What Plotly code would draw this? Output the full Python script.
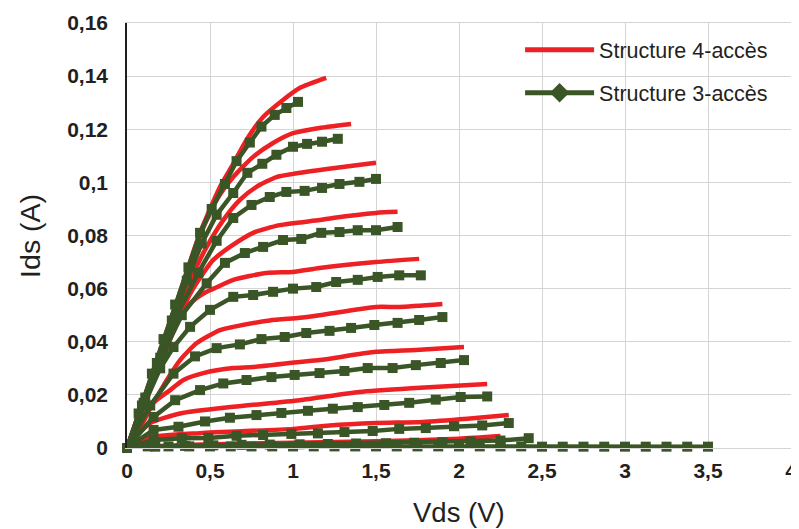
import plotly.graph_objects as go

# ---------------- data ----------------
# Structure 4-accès (red curves)
r1_x = [0, 0.1, 0.2, 0.3, 0.44, 0.56, 0.64, 0.72, 0.82, 0.94, 1.04, 1.2]
r1_y = [0, 0.018, 0.037, 0.055, 0.081, 0.0983, 0.107, 0.116, 0.1246, 0.131, 0.1355, 0.1393]
r2_x = [0, 0.1, 0.2, 0.3, 0.44, 0.54, 0.64, 0.76, 0.88, 1.0, 1.14, 1.35]
r2_y = [0, 0.018, 0.036, 0.053, 0.080, 0.0934, 0.102, 0.1096, 0.1148, 0.1185, 0.1203, 0.122]
r3_x = [0, 0.1, 0.2, 0.3, 0.38, 0.48, 0.58, 0.68, 0.78, 0.9, 1.0, 1.24, 1.5]
r3_y = [0, 0.017, 0.034, 0.050, 0.063, 0.0757, 0.0858, 0.0934, 0.0983, 0.102, 0.1032, 0.1053, 0.1074]
r4_x = [0, 0.1, 0.2, 0.3, 0.38, 0.46, 0.52, 0.62, 0.76, 0.92, 1.16, 1.24, 1.5, 1.63]
r4_y = [0, 0.016, 0.032, 0.047, 0.058, 0.0659, 0.0708, 0.0757, 0.081, 0.0839, 0.0858, 0.0866, 0.0885, 0.0889]
r5_x = [0, 0.1, 0.2, 0.32, 0.40, 0.48, 0.54, 0.64, 0.84, 1.0, 1.16, 1.5, 1.76]
r5_y = [0, 0.016, 0.031, 0.050, 0.0555, 0.0588, 0.0605, 0.0633, 0.0659, 0.0663, 0.0678, 0.070, 0.0712]
r6_x = [0, 0.1, 0.18, 0.24, 0.32, 0.42, 0.56, 0.64, 0.86, 1.04, 1.16, 1.5, 1.64, 1.90]
r6_y = [0, 0.012, 0.0192, 0.0256, 0.0331, 0.0395, 0.0444, 0.0456, 0.048, 0.049, 0.050, 0.0531, 0.0531, 0.0542]
r7_x = [0, 0.1, 0.16, 0.26, 0.34, 0.46, 0.64, 0.76, 1.04, 1.16, 1.5, 1.74, 2.03]
r7_y = [0, 0.010, 0.017, 0.0218, 0.0256, 0.0282, 0.0301, 0.0305, 0.0324, 0.0331, 0.0362, 0.0369, 0.038]
r8_x = [0, 0.08, 0.14, 0.32, 0.64, 1.04, 1.40, 1.74, 2.17]
r8_y = [0, 0.006, 0.0094, 0.013, 0.0155, 0.018, 0.0211, 0.0226, 0.0241]
r9_x = [0, 0.14, 0.44, 1.0, 1.22, 1.5, 1.78, 2.05, 2.30]
r9_y = [0, 0.004, 0.0056, 0.0072, 0.0085, 0.0094, 0.0098, 0.011, 0.0124]
r10_x = [0, 0.3, 0.6, 1.0, 1.5, 2.0, 2.25]
r10_y = [0, 0.001, 0.0015, 0.002, 0.0025, 0.0035, 0.0045]
r11_x = [0, 1.0, 2.0, 3.0, 3.5]
r11_y = [0, 0, 0, 0, 0]

# Structure 3-accès (green curves with markers)
g1_x = [0, 0.07, 0.15, 0.22, 0.29, 0.37, 0.44, 0.51, 0.59, 0.66, 0.74, 0.81, 0.89, 0.96, 1.03]
g1_y = [0, 0.013, 0.028, 0.041, 0.054, 0.068, 0.081, 0.090, 0.0994, 0.108, 0.115, 0.121, 0.1254, 0.128, 0.1303]
g2_x = [0, 0.09, 0.18, 0.27, 0.36, 0.45, 0.54, 0.64, 0.725, 0.815, 0.90, 1.0, 1.085, 1.175, 1.27]
g2_y = [0, 0.016, 0.032, 0.048, 0.063, 0.077, 0.0878, 0.096, 0.1036, 0.107, 0.1104, 0.1134, 0.1145, 0.1153, 0.1164]
g3_x = [0, 0.1, 0.2, 0.3, 0.43, 0.54, 0.64, 0.75, 0.86, 0.96, 1.07, 1.175, 1.28, 1.40, 1.50]
g3_y = [0, 0.017, 0.034, 0.050, 0.066, 0.078, 0.0866, 0.0915, 0.0945, 0.0964, 0.0968, 0.0979, 0.0994, 0.1002, 0.1013]
g4_x = [0, 0.11, 0.22, 0.33, 0.48, 0.59, 0.71, 0.82, 0.94, 1.05, 1.17, 1.28, 1.39, 1.50, 1.63]
g4_y = [0, 0.019, 0.036, 0.050, 0.062, 0.0697, 0.0734, 0.0757, 0.0783, 0.0787, 0.081, 0.0813, 0.082, 0.082, 0.0832]
g5_x = [0, 0.1, 0.2, 0.28, 0.38, 0.50, 0.64, 0.76, 0.88, 1.0, 1.14, 1.26, 1.39, 1.51, 1.64, 1.77]
g5_y = [0, 0.016, 0.030, 0.038, 0.0456, 0.052, 0.0569, 0.0576, 0.0588, 0.060, 0.0606, 0.0625, 0.0633, 0.0644, 0.065, 0.065]
g6_x = [0, 0.14, 0.28, 0.41, 0.54, 0.68, 0.81, 0.95, 1.08, 1.22, 1.35, 1.49, 1.63, 1.76, 1.90]
g6_y = [0, 0.016, 0.028, 0.0345, 0.0376, 0.039, 0.041, 0.0418, 0.0433, 0.0441, 0.0452, 0.0463, 0.0471, 0.0482, 0.0493]
g7_x = [0, 0.16, 0.29, 0.44, 0.58, 0.72, 0.87, 1.01, 1.16, 1.31, 1.45, 1.60, 1.74, 1.89, 2.03]
g7_y = [0, 0.0117, 0.018, 0.0218, 0.0243, 0.0256, 0.0267, 0.0275, 0.0282, 0.029, 0.0301, 0.0301, 0.0312, 0.032, 0.0331]
g8_x = [0, 0.16, 0.31, 0.47, 0.62, 0.78, 0.93, 1.09, 1.24, 1.39, 1.55, 1.70, 1.86, 2.01, 2.17]
g8_y = [0, 0.0068, 0.0080, 0.0100, 0.0114, 0.0124, 0.0132, 0.0140, 0.0148, 0.0154, 0.0162, 0.017, 0.0182, 0.0192, 0.0194]
g9_x = [0, 0.16, 0.33, 0.49, 0.66, 0.82, 0.99, 1.15, 1.31, 1.48, 1.64, 1.80, 1.97, 2.14, 2.30]
g9_y = [0, 0.003, 0.0037, 0.0038, 0.0046, 0.0049, 0.0053, 0.0055, 0.006, 0.0064, 0.0072, 0.0075, 0.0082, 0.0085, 0.0094]
g10_x = [0, 0.17, 0.35, 0.52, 0.69, 0.86, 1.04, 1.21, 1.38, 1.56, 1.73, 1.90, 2.07, 2.25, 2.42]
g10_y = [0, 0.0005, 0.0008, 0.001, 0.0012, 0.0013, 0.0014, 0.0015, 0.0017, 0.0018, 0.002, 0.0022, 0.0025, 0.0028, 0.0037]
g11_x = [0, 0.125, 0.25, 0.375, 0.5, 0.625, 0.75, 0.875, 1.0, 1.125, 1.25, 1.375, 1.5, 1.625, 1.75,
         1.875, 2.0, 2.125, 2.25, 2.375, 2.5, 2.625, 2.75, 2.875, 3.0, 3.125, 3.25, 3.375, 3.5]
g11_y = [0, 0.0006, 0.0006, 0.0006, 0.0006, 0.0006, 0.0006, 0.0006, 0.0006, 0.0006, 0.0006, 0.0006, 0.0006, 0.0006, 0.0006,
         0.0006, 0.0006, 0.0006, 0.0006, 0.0006, 0.0005, 0.0005, 0.0005, 0.0005, 0.0005, 0.0005, 0.0005, 0.0005, 0.0005]

series_names = ["Structure 4-accès", "Structure 3-accès"]
x_title = "Vds (V)"
y_title = "Ids (A)"
x_tickvals = [0, 0.5, 1, 1.5, 2, 2.5, 3, 3.5, 4]
x_ticktext = ["0", "0,5", "1", "1,5", "2", "2,5", "3", "3,5", "4"]
y_tickvals = [0, 0.02, 0.04, 0.06, 0.08, 0.1, 0.12, 0.14, 0.16]
y_ticktext = ["0", "0,02", "0,04", "0,06", "0,08", "0,1", "0,12", "0,14", "0,16"]

RED = "#ED2024"
GREEN = "#3A5526"
TXT = "#231F20"
FONT = "Liberation Sans, Arial, sans-serif"

red_curves = [(r1_x, r1_y), (r2_x, r2_y), (r3_x, r3_y), (r4_x, r4_y), (r5_x, r5_y), (r6_x, r6_y),
              (r7_x, r7_y), (r8_x, r8_y), (r9_x, r9_y), (r10_x, r10_y), (r11_x, r11_y)]
green_curves = [(g11_x, g11_y), (g10_x, g10_y), (g9_x, g9_y), (g8_x, g8_y), (g7_x, g7_y), (g6_x, g6_y),
                (g5_x, g5_y), (g4_x, g4_y), (g3_x, g3_y), (g2_x, g2_y), (g1_x, g1_y)]

fig = go.Figure()
for xs, ys in red_curves:
    fig.add_trace(go.Scatter(x=xs, y=ys, mode="lines", line=dict(color=RED, width=4.5, shape="spline", smoothing=0.6),
                             showlegend=False, hoverinfo="skip", cliponaxis=False))
for xs, ys in green_curves:
    fig.add_trace(go.Scatter(x=xs, y=ys, mode="lines+markers", line=dict(color=GREEN, width=4.5),
                             marker=dict(symbol="square", size=10, color=GREEN),
                             showlegend=False, hoverinfo="skip", cliponaxis=False))

# legend entries
fig.add_trace(go.Scatter(x=[None], y=[None], mode="lines", name=series_names[0],
                         line=dict(color=RED, width=5), legendgroup="a"))
fig.add_trace(go.Scatter(x=[None], y=[None], mode="lines+markers", name=series_names[1],
                         line=dict(color=GREEN, width=5), marker=dict(symbol="diamond", size=15, color=GREEN),
                         legendgroup="b"))

# page body has an 8px margin: figure sits at (8, 8) in the window
fig.update_layout(
    width=791, height=521,
    margin=dict(l=119, r=8, t=15, b=81),
    paper_bgcolor="white", plot_bgcolor="white",
    font=dict(family=FONT, color=TXT),
    showlegend=True,
    legend=dict(x=0.592, y=0.985, xanchor="left", yanchor="top", bgcolor="rgba(255,255,255,0)",
                font=dict(size=21.5, family=FONT, color=TXT), tracegroupgap=12, itemwidth=69),
    xaxis=dict(range=[0, 4], tickvals=x_tickvals, ticktext=x_ticktext, automargin=False,
               tickfont=dict(size=21, family=FONT, color=TXT, weight="bold"),
               showgrid=True, gridcolor="#D4D4D4", gridwidth=1.3,
               showline=True, linecolor="#D4D4D4", linewidth=1.3, mirror=True,
               ticks="outside", ticklen=4, tickcolor="rgba(0,0,0,0)", zeroline=False),
    yaxis=dict(range=[0, 0.16], tickvals=y_tickvals, ticktext=y_ticktext, automargin=False,
               tickfont=dict(size=21, family=FONT, color=TXT, weight="bold"),
               showgrid=True, gridcolor="#D4D4D4", gridwidth=1.3,
               showline=True, linecolor=TXT, linewidth=1.5,
               ticks="outside", ticklen=13, tickcolor="rgba(0,0,0,0)", zeroline=False),
    annotations=[
        dict(text=x_title, xref="paper", yref="paper", x=0.5, y=-0.152, xanchor="center", yanchor="middle",
             showarrow=False, font=dict(size=27.5, family=FONT, color=TXT)),
        dict(text=y_title, xref="paper", yref="paper", x=-0.147, y=0.5, xanchor="center", yanchor="middle",
             textangle=-90, showarrow=False, font=dict(size=28.5, family=FONT, color=TXT)),
    ],
)

fig.write_html("out.html")
